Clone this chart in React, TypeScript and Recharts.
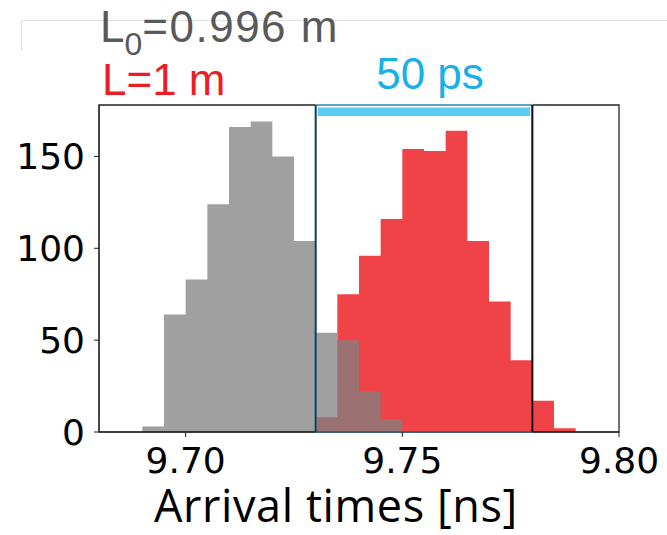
import React from "react";
import {
  Area,
  ComposedChart,
  ReferenceArea,
  ReferenceLine,
  XAxis,
  YAxis,
} from "recharts";

// histogram bin left edges (ns), bin width 5 ps; last entry closes the final bin
const binEdges = [
  9.69, 9.695, 9.7, 9.705, 9.71, 9.715, 9.72, 9.725, 9.73, 9.735, 9.74,
  9.745, 9.75, 9.755, 9.76, 9.765, 9.77, 9.775, 9.78, 9.785, 9.79,
];
// counts for L0 = 0.996 m (grey)
const refCounts = [3, 64, 83, 124, 166, 169, 150, 104, 54, 50, 22, 7, 0, 0, 0, 0, 0, 0, 0, 0, 0];
// counts for L = 1 m (red)
const measCounts = [0, 0, 0, 0, 0, 0, 0, 0, 8, 75, 96, 116, 154, 153, 164, 104, 71, 39, 17, 2, 0];

const xTicks = [9.7, 9.75, 9.8];
const yTicks = [0, 50, 100, 150];
const xDomain = [9.68, 9.8];
const yMax = 178;

// 50 ps window
const windowStart = 9.73;
const windowEnd = 9.78;

const data = binEdges.map((t, i) => ({ t, ref: refCounts[i], meas: measCounts[i] }));

const tickStyle = { fontFamily: "DejaVu Sans", fontSize: 36, fill: "#000" };

export default function App() {
  return (
    <div style={{ position: "absolute", left: 0, top: 0, width: 667, height: 535, background: "#fff" }}>
      <div style={{ position: "absolute", left: 21, top: 20, width: 646, height: 30, borderTop: "1px solid #e2e2e2", borderLeft: "1px solid #e2e2e2" }} />
      <ComposedChart
        width={667}
        height={535}
        data={data}
        margin={{ top: 105, right: 48, bottom: 43, left: 0 }}
      >
        <XAxis
          dataKey="t"
          type="number"
          domain={xDomain}
          ticks={xTicks}
          allowDataOverflow
          tickFormatter={(v: number) => v.toFixed(2)}
          tick={tickStyle}
          tickSize={5}
          tickMargin={10}
          height={60}
          stroke="#222"
        />
        <YAxis
          type="number"
          domain={[0, yMax]}
          ticks={yTicks}
          allowDataOverflow
          tick={tickStyle}
          tickSize={5}
          tickMargin={9}
          width={99}
          stroke="#222"
        />
        <Area
          type="stepAfter"
          dataKey="meas"
          fill="#ef4347"
          fillOpacity={1}
          stroke="none"
          isAnimationActive={false}
        />
        <Area
          type="stepAfter"
          dataKey="ref"
          fill="#808080"
          fillOpacity={0.75}
          stroke="none"
          isAnimationActive={false}
        />
        <ReferenceArea
          x1={xDomain[0]}
          x2={xDomain[1]}
          y1={0}
          y2={yMax}
          fill="none"
          stroke="#222"
          strokeWidth={1.3}
          ifOverflow="visible"
        />
        <ReferenceArea
          x1={windowStart}
          x2={windowEnd}
          y1={0}
          y2={yMax}
          fill="none"
          stroke="#5bc0e8"
          strokeWidth={1.5}
          ifOverflow="visible"
        />
        <ReferenceArea
          x1={windowStart + 0.0005}
          x2={windowEnd - 0.0005}
          y1={172}
          y2={176.6}
          fill="#5ecbf3"
          fillOpacity={1}
          stroke="none"
        />
        <ReferenceLine x={windowStart} stroke="#1f3d52" strokeWidth={2} />
        <ReferenceLine x={windowEnd} stroke="#111" strokeWidth={2} />
      </ComposedChart>
      <svg
        width={667}
        height={535}
        style={{ position: "absolute", left: 0, top: 0, pointerEvents: "none" }}
      >
        <text x={100} y={42} fontFamily="Liberation Sans" fontSize={44} fill="#595959">
          L
          <tspan fontSize={32} dy={13}>0</tspan>
          <tspan dy={-13} letterSpacing={1.5}>=0.996 m</tspan>
        </text>
        <text x={102} y={95} fontFamily="Liberation Sans" fontSize={44} fill="#ee1c25">
          L=1 m
        </text>
        <text x={430} y={89} textAnchor="middle" fontFamily="Liberation Sans" fontSize={44} fill="#17b0ea">
          50 ps
        </text>
        <text x={336} y={522} textAnchor="middle" fontFamily="Open Sans" fontSize={45} letterSpacing={0.6} fill="#000">
          Arrival times [ns]
        </text>
      </svg>
    </div>
  );
}
